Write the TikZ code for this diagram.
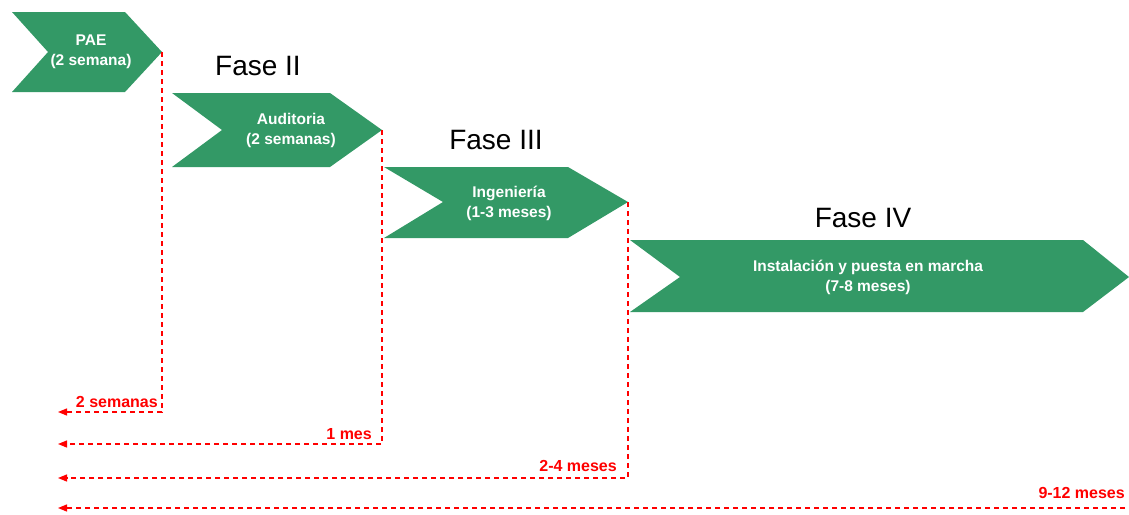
\documentclass[tikz,border=0pt]{standalone}
\usepackage{fontspec}
\setmainfont{Liberation Sans}
\usetikzlibrary{positioning, arrows.meta}

\definecolor{fasegreen}{RGB}{51,153,102}

\tikzset{
  fase/.style={fill=fasegreen},
  fasetext/.style={text=white, align=center, inner sep=0pt,
    font=\bfseries\fontsize{15.5}{20}\selectfont},
  fasetitle/.style={font=\fontsize{28}{30}\selectfont, inner sep=0pt},
  plazo/.style={red, line width=1.2pt, dash pattern=on 5pt off 4pt,
    >={Triangle[length=9pt, width=7pt]}},
  plazotext/.style={red, inner sep=0pt,
    font=\bfseries\fontsize{16}{18}\selectfont},
}

\begin{document}
\begin{tikzpicture}[x=1pt,y=-1pt]

    \useasboundingbox (0,0) rectangle (1129,514);

    \fill[fase] (12,12) -- (125,12) -- (162,52) coordinate (pae)
      -- (125,92) -- (12,92) -- (48,52) -- cycle;
    \fill[fase] (172,93) -- (330,93) -- (382,130) coordinate (aud)
      -- (330,167) -- (172,167) -- (222,130) -- cycle;
    \fill[fase] (384,167) -- (568,167) -- (628,202) coordinate (ing)
      -- (568,238) -- (384,238) -- (443,202) -- cycle;
    \fill[fase] (630,240) -- (1083,240) -- (1129,277) coordinate (ins)
      -- (1083,312) -- (630,312) -- (680,277) -- cycle;

    \node[fasetext] (paetxt) at (91,52) {PAE\\(2 semana)};
    \node[fasetext] (audtxt) at (291,130) {Auditoria\\(2 semanas)};
    \node[fasetext] (ingtxt) at (509,203) {Ingeniería\\(1-3 meses)};
    \node[fasetext] (instxt) at (868,277) {Instalación y puesta en marcha\\(7-8 meses)};

    \node[fasetitle] (fase2) at (258,66) {Fase II};
    \node[fasetitle] (fase3) at (496,140) {Fase III};
    \node[fasetitle] (fase4) at (863,218) {Fase IV};

    \coordinate (fin1) at (58,412);
    \coordinate (fin2) at (58,444);
    \coordinate (fin3) at (58,478);
    \coordinate (fin4) at (58,508);
    \coordinate (ini4) at (1125,508);

    \draw[plazo,->] (pae) -- (pae |- fin1) -- (fin1);
    \draw[plazo,->] (aud) -- (aud |- fin2) -- (fin2);
    \draw[plazo,->] (ing) -- (ing |- fin3) -- (fin3);
    \draw[plazo,->] (ini4) -- (fin4);

    \node[plazotext, anchor=base east] (plazo1) at (158,407) {2 semanas};
    \node[plazotext, anchor=base east] (plazo2) at (372,439) {1 mes};
    \node[plazotext, anchor=base east] (plazo3) at (617,471) {2-4 meses};
    \node[plazotext, anchor=base east] (plazo4) at (1125,498) {9-12 meses};

\end{tikzpicture}
\end{document}
